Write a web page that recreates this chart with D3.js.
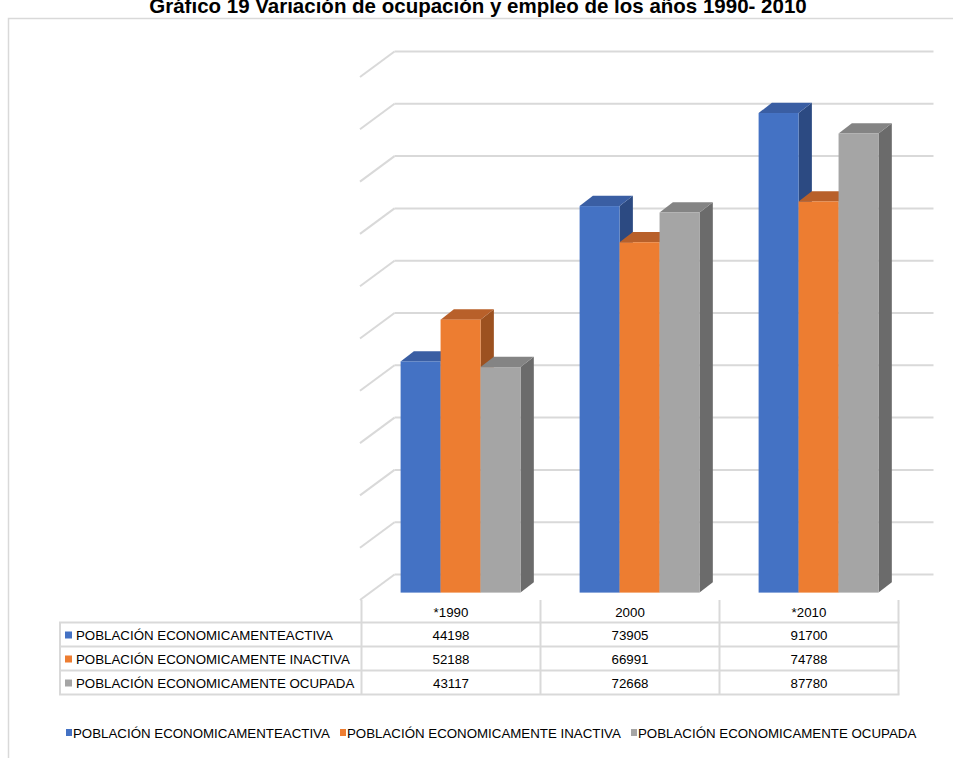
<!DOCTYPE html>
<html>
<head>
<meta charset="utf-8">
<script src="https://cdn.jsdelivr.net/npm/d3@7"></script>
<style>
body { margin: 0; background: #ffffff; }
text { font-family: "Liberation Sans", Arial, sans-serif; }
</style>
</head>
<body>
<div id="chart"></div>
<script>
width = 953
height = 758

// data
let categories = ["*1990", "2000", "*2010"]
let seriesNames = ["POBLACIÓN ECONOMICAMENTEACTIVA", "POBLACIÓN ECONOMICAMENTE INACTIVA", "POBLACIÓN ECONOMICAMENTE OCUPADA"]
let activa = [44198, 73905, 91700]
let inactiva = [52188, 66991, 74788]
let ocupada = [43117, 72668, 87780]
let seriesValues = [activa, inactiva, ocupada]

let colors = ["#4472C4", "#ED7D31", "#A5A5A5"]
let topColors = ["#3A5EA3", "#B8602A", "#848484"]
let sideColors = ["#2C4A82", "#9C5120", "#6B6B6B"]

let svg = d3.select("#chart")
.append("svg")
.attr("width", width)
.attr("height", height)

// outer frame
svg.append("rect")
.attr("x", 8.5)
.attr("y", 18.5)
.attr("width", 960)
.attr("height", 800)
.attr("fill", "none")
.attr("stroke", "#d9d9d9")
.attr("stroke-width", 1.5)

svg.append("text")
.attr("x", 478)
.attr("y", 13)
.attr("text-anchor", "middle")
.attr("font-size", 20.5)
.attr("font-weight", "bold")
.text("Gráfico 19 Variación de ocupación y empleo de los años 1990- 2010")

// 3d plot geometry
let frontLeft = 361.5, frontRight = 898.5, floorY = 600
let depthX = 33, depthY = 25.5
let plotH = 523

let y = d3.scaleLinear().domain([0, 100000]).range([0, plotH])
let xCol = d3.scaleBand().domain(categories).range([frontLeft, frontRight])
let xGroup = d3.scaleBand().domain(categories).range([frontLeft, frontRight]).paddingInner(0.33).paddingOuter(0.165)
let xSeries = d3.scaleBand().domain(d3.range(seriesNames.length)).range([0, xGroup.bandwidth()])

let grid = svg.append("g")
y.ticks(10).forEach(t => {
	let by = floorY - depthY - y(t)
	grid.append("line")
		.attr("x1", frontLeft + depthX).attr("x2", frontRight + depthX + 2)
		.attr("y1", by).attr("y2", by)
		.attr("stroke", "#d9d9d9").attr("stroke-width", 2)
	grid.append("line")
		.attr("x1", frontLeft - 1.5).attr("x2", frontLeft + depthX)
		.attr("y1", by + depthY).attr("y2", by)
		.attr("stroke", "#d9d9d9").attr("stroke-width", 2)
})

// bars sit in the middle of the floor depth
let offX = depthX * 0.29, offY = depthY * 0.29
let barDX = 13.3, barDY = 10.3

let bars = svg.append("g")
categories.forEach((cat, ci) => {
	seriesValues.forEach((vals, si) => {
		let bx = xGroup(cat) + xSeries(si) + offX
		let bw = xSeries.bandwidth()
		let bottom = floorY - offY
		let top = bottom - y(vals[ci])
		let g = bars.append("g")
		g.append("polygon")
			.attr("points", [[bx + bw, top], [bx + bw + barDX, top - barDY], [bx + bw + barDX, bottom - barDY], [bx + bw, bottom]].join(" "))
			.attr("fill", sideColors[si])
		g.append("polygon")
			.attr("points", [[bx, top], [bx + barDX, top - barDY], [bx + bw + barDX, top - barDY], [bx + bw, top]].join(" "))
			.attr("fill", topColors[si])
		g.append("rect")
			.attr("x", bx).attr("y", top)
			.attr("width", bw).attr("height", y(vals[ci]))
			.attr("fill", colors[si])
	})
})

// data table
let tableLeft = 60, headerTop = 600, rowTop = 622.5, rowH = 24
let table = svg.append("g")

xCol.domain().concat([null]).forEach((cat, i) => {
	let lx = cat == null ? frontRight : xCol(cat)
	table.append("line")
		.attr("x1", lx).attr("x2", lx)
		.attr("y1", headerTop).attr("y2", rowTop + rowH * seriesNames.length)
		.attr("stroke", "#d9d9d9").attr("stroke-width", 2)
})
table.append("line")
	.attr("x1", tableLeft).attr("x2", tableLeft)
	.attr("y1", rowTop).attr("y2", rowTop + rowH * seriesNames.length)
	.attr("stroke", "#d9d9d9").attr("stroke-width", 2)
d3.range(seriesNames.length + 1).forEach(i => {
	table.append("line")
		.attr("x1", tableLeft - 1).attr("x2", frontRight + 1)
		.attr("y1", rowTop + i * rowH).attr("y2", rowTop + i * rowH)
		.attr("stroke", "#d9d9d9").attr("stroke-width", 2)
})

categories.forEach(cat => {
	table.append("text")
		.attr("x", xCol(cat) + xCol.bandwidth() / 2)
		.attr("y", 617)
		.attr("text-anchor", "middle")
		.attr("font-size", 13.3)
		.attr("fill", "#000")
		.text(cat)
})

seriesNames.forEach((name, si) => {
	let ry = rowTop + si * rowH
	table.append("rect")
		.attr("x", 65).attr("y", ry + 9)
		.attr("width", 7).attr("height", 7)
		.attr("fill", colors[si])
	table.append("text")
		.attr("x", 76).attr("y", ry + 17)
		.attr("font-size", 13.3)
		.text(name)
	categories.forEach((cat, ci) => {
		table.append("text")
			.attr("x", xCol(cat) + xCol.bandwidth() / 2)
			.attr("y", ry + 17)
			.attr("text-anchor", "middle")
			.attr("font-size", 13.3)
			.text(seriesValues[si][ci])
	})
})

// legend
let legendX = [66, 340, 631]
let legend = svg.append("g")
seriesNames.forEach((name, si) => {
	legend.append("rect")
		.attr("x", legendX[si]).attr("y", 729)
		.attr("width", 6).attr("height", 7)
		.attr("fill", colors[si])
	legend.append("text")
		.attr("x", legendX[si] + 7).attr("y", 737.5)
		.attr("font-size", 13.3)
		.text(name)
})
</script>
</body>
</html>
